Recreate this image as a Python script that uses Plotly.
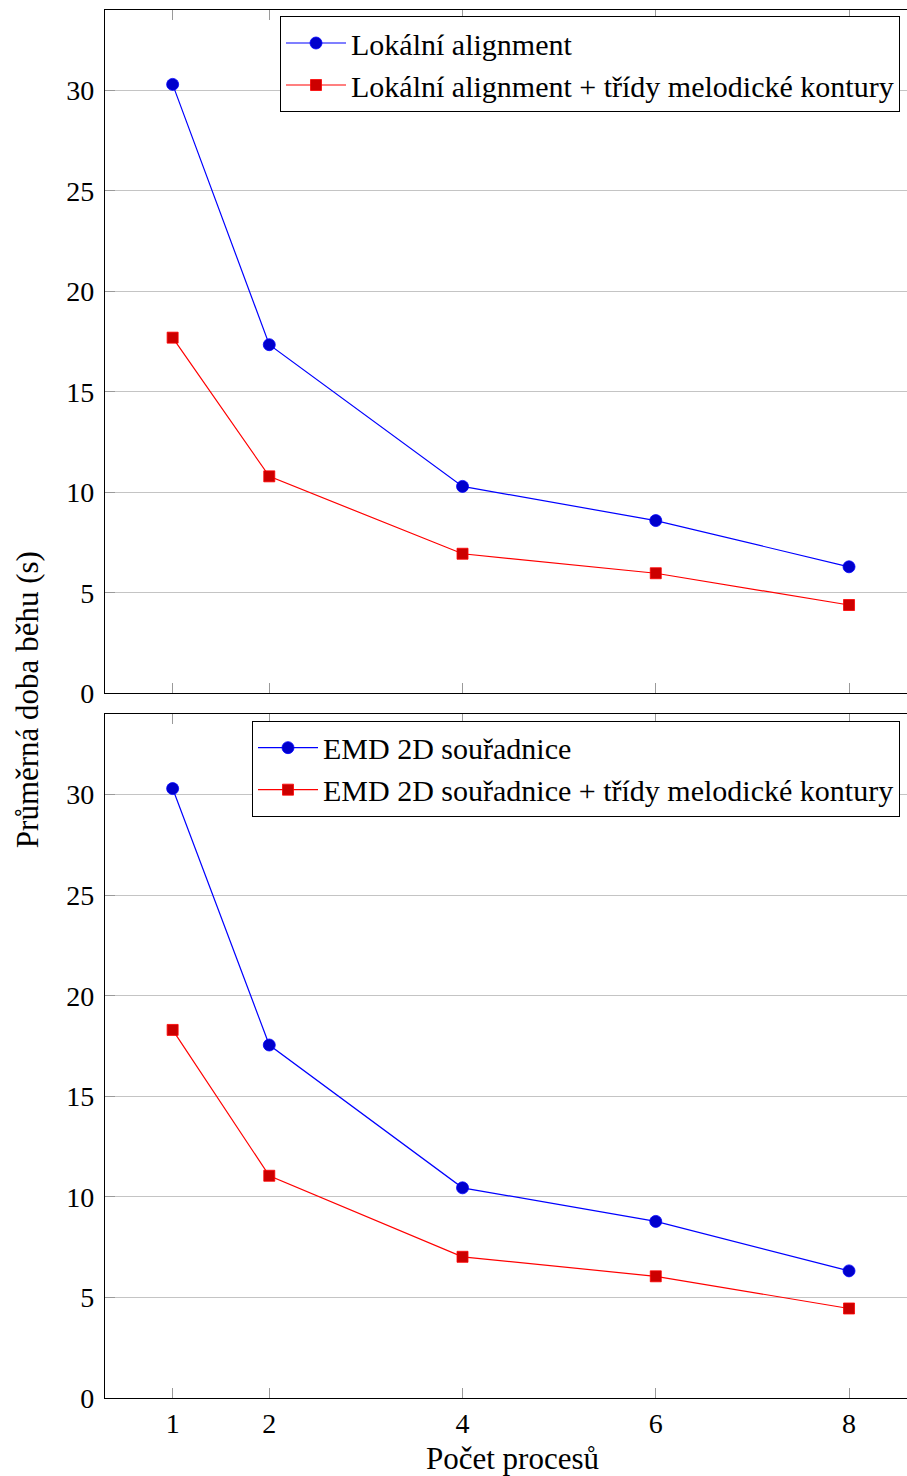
import plotly.graph_objects as go

procs = [1, 2, 4, 6, 8]

top_blue_name = "Lokální alignment"
top_red_name = "Lokální alignment + třídy melodické kontury"
top_blue = [30.3, 17.35, 10.3, 8.6, 6.3]
top_red = [17.7, 10.8, 6.95, 5.98, 4.4]

bot_blue_name = "EMD 2D souřadnice"
bot_red_name = "EMD 2D souřadnice + třídy melodické kontury"
bot_blue = [30.3, 17.55, 10.45, 8.78, 6.32]
bot_red = [18.3, 11.05, 7.02, 6.05, 4.45]

y_ticks = [0, 5, 10, 15, 20, 25, 30]
x_ticks = [1, 2, 4, 6, 8]
x_title = "Počet procesů"
y_title = "Průměrná doba běhu (s)"

FONT = "Liberation Serif, Times New Roman, serif"
BLUE_LINE = "#0000ff"
BLUE_FILL = "#0000cc"
RED_LINE = "#ff0000"
RED_FILL = "#cc0000"

fig = go.Figure()


def add_pair(blue, red, bname, rname, xa, ya, leg):
    fig.add_trace(go.Scatter(
        x=procs, y=blue, name=bname, mode="lines+markers",
        line=dict(color=BLUE_LINE, width=1.2),
        marker=dict(symbol="circle", size=12, color=BLUE_FILL,
                    line=dict(color=BLUE_LINE, width=0.8)),
        xaxis=xa, yaxis=ya, legend=leg))
    fig.add_trace(go.Scatter(
        x=procs, y=red, name=rname, mode="lines+markers",
        line=dict(color=RED_LINE, width=1.2),
        marker=dict(symbol="square", size=11, color=RED_FILL,
                    line=dict(color=RED_LINE, width=0.8)),
        xaxis=xa, yaxis=ya, legend=leg))


add_pair(top_blue, top_red, top_blue_name, top_red_name, "x", "y", "legend")
add_pair(bot_blue, bot_red, bot_blue_name, bot_red_name, "x2", "y2", "legend2")

# body margin is removed below, so figure pixels == page pixels
W, H = 907, 1476
L, R, T = 105, 0, 10
B = H - 1397.7
plot_w = W - L - R
plot_h = H - T - B


def px(xp):
    return (xp - L) / plot_w


def py(yp):
    return (H - B - yp) / plot_h


y_top_dom = [py(693.3), 1]
y_bot_dom = [0, py(714)]

xcommon = dict(range=[0.3, 8.6], tickvals=x_ticks, ticks="inside", ticklen=10,
               tickcolor="#9a9a9a", tickwidth=1, showline=True, linecolor="black",
               linewidth=1.3, mirror="ticks", showgrid=False, zeroline=False,
               tickfont=dict(family=FONT, size=28, color="black"))
ycommon = dict(range=[0, 34], tickvals=y_ticks, ticks="inside", ticklen=10,
               tickcolor="#9a9a9a", tickwidth=1, showline=True, linecolor="black",
               linewidth=1.3, mirror=False, showgrid=True, gridcolor="#c4c4c4",
               gridwidth=1, zeroline=False, ticklabelstandoff=4,
               tickfont=dict(family=FONT, size=28, color="black"))

legcommon = dict(bgcolor="white", bordercolor="black", borderwidth=1,
                 font=dict(family=FONT, size=30, color="black"),
                 xanchor="right", yanchor="middle", tracegroupgap=0,
                 itemwidth=60, itemclick=False)

fig.update_layout(
    width=W, height=H,
    margin=dict(l=L, r=R, t=T, b=B, pad=0),
    paper_bgcolor="white", plot_bgcolor="white",
    showlegend=True,
    xaxis=dict(**xcommon, domain=[0, 1], anchor="y", matches="x2", showticklabels=False),
    yaxis=dict(**ycommon, domain=y_top_dom, anchor="x"),
    xaxis2=dict(**xcommon, domain=[0, 1], anchor="y2"),
    yaxis2=dict(**ycommon, domain=y_bot_dom, anchor="x2"),
    legend=dict(**legcommon, x=px(900), y=py(64)),
    legend2=dict(**legcommon, x=px(900), y=py(768.5)),
    annotations=[
        dict(text=x_title, xref="paper", yref="paper",
             x=px(512), y=py(1458),
             xanchor="center", yanchor="middle", showarrow=False,
             font=dict(family=FONT, size=31, color="black")),
        dict(text=y_title, xref="paper", yref="paper", textangle=-90,
             x=px(27), y=py(700),
             xanchor="center", yanchor="middle", showarrow=False,
             font=dict(family=FONT, size=31, color="black")),
    ],
)

fig.write_html("out.html",
               config={"displayModeBar": False},
               post_script="document.body.style.margin='0';"
                           "document.body.style.overflow='hidden';")
